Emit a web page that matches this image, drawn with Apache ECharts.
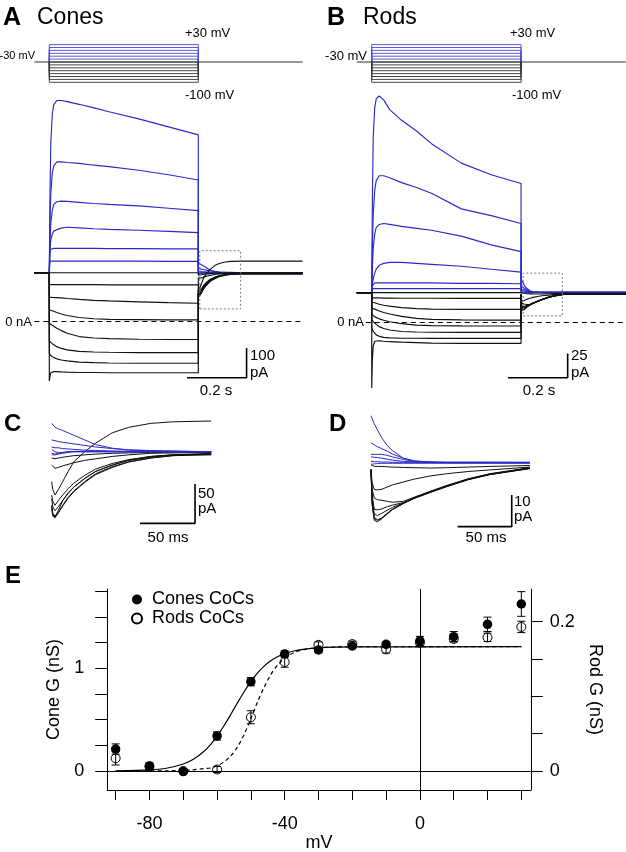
<!DOCTYPE html>
<html><head><meta charset="utf-8">
<script src="https://cdn.jsdelivr.net/npm/echarts@6/dist/echarts.min.js"></script>
<style>html,body{margin:0;padding:0;background:#fff}#c{width:626px;height:852px}</style>
</head><body><div id="c"></div><script>
// ---------------- DATA ----------------
const stepVoltagesMv = [-100,-90,-80,-70,-60,-50,-40,-30,-20,-10,0,10,20,30];
const holdingMv = -30;
const stepOnMs = 0, stepOffMs = 500;
const stepTimesMs = [0,2,5,10,15,25,40,60,100,150,200,300,400,500];
const coneTailTimesMs = [0,1,3,6,10,15,20,30,40,55,70,90,110,145];
const rodTailTimesMs  = [0,1,3,6,10,15,20,30,40,55,70,90,110,147];
const coneHoldingPa = 165;
const rodHoldingPa = 30;

// cone currents during the step (pA), one row per step voltage
const coneStepPa = [
  [-200,-185,-172,-168,-168,-168,-169,-170,-171,-171,-172,-172,-172,-172],
  [-106,-110,-114,-118,-121,-125,-129,-132,-136,-138,-139,-140,-140,-140],
  [-65,-67,-70,-74,-78,-84,-90,-95,-100,-102,-103,-104,-104,-104],
  [-5,-6,-8,-12,-16,-22,-30,-39,-50,-55,-57,-59,-60,-60],
  [40,40,39,37,35,31,26,21,14,10,8,7,6,6],
  [83,83,83,82,82,81,80,78,75,72,70,67,64,62],
  [125,125,125,125,125,125,125,125,125,125,124,124,124,124],
  [165,165,165,165,165,165,165,165,165,165,165,165,165,165],
  [165,204,204,204,204,204,204,204,204,204,204,204,203,203],
  [165,230,244,247,247,247,247,247,247,247,246,246,245,245],
  [165,240,275,295,305,310,315,318,316,313,311,308,304,300],
  [165,270,330,375,395,404,406,405,402,398,395,390,382,374],
  [165,330,430,500,525,538,538,536,533,527,522,510,495,477],
  [165,400,600,700,730,745,745,741,732,720,707,683,656,629]
];
// cone tail currents after the step, relative to holding current (pA)
const coneTailPa = [
  [-60,-70,-75,-70,-62,-53,-45,-34,-25,-17,-11,-7,-4,-3],
  [-72,-82,-84,-78,-69,-59,-51,-39,-29,-20,-13,-8,-5,-4],
  [-70,-80,-83,-77,-68,-58,-50,-38,-28,-19,-13,-8,-5,-3],
  [-68,-78,-82,-75,-62,-52,-45,-34,-25,-17,-11,-6,-4,-2],
  [-55,-63,-68,-62,-55,-47,-40,-30,-22,-15,-10,-6,-4,-3],
  [-38,-48,-55,-48,-38,-25,-13,0,11,24,31,36,38,39],
  [-17,-19,-21,-20,-18,-16,-14,-11,-9,-6,-4,-2,-1.5,-1],
  [-8,-9,-9,-8,-7,-6,-5,-4,-3,-2,-1.5,-1,-0.5,0],
  [-4,-5,-4,-3,-2,-1,0,0,0,0,0,0,0,0],
  [-2,-3,-3,-2,-1,0,0,0,0,0,0,0,0,0],
  [3,2,0,-1,-1,0,0.5,0.5,0.5,0,0,0,0,0],
  [6,6,5,5,4,3.5,3,2,1.5,1,0.5,0,0,0],
  [15,15,14,13,12,11,10,8,6,4,2.5,1.5,1,0],
  [36,34,31,29,27,24,21,15,9,4.5,2,1,0.5,0]
];
// rod currents during the step (pA)
const rodStepPa = [
  [-68,-40,-25,-20,-19,-19.5,-20,-20.5,-21,-21.5,-22,-22.2,-22.2,-22.2],
  [-6,-8,-10,-12,-13.5,-15,-16,-16.5,-17,-17,-17.1,-17.1,-17.1,-17.1],
  [2,1,0,-1.5,-3,-5,-7,-8.5,-10,-10.5,-10.8,-10.9,-10.9,-10.9],
  [8,7,6,5,4,3,1.5,0,-2,-3.5,-4,-4.3,-4.4,-4.4],
  [14,14,13.5,13,12,11,9.5,8,5.5,3.5,2.5,2,1.7,1.7],
  [20,20,20,19.5,19,18,17,16,14.5,13.5,13,12.7,12.7,12.7],
  [24.5,24.5,24.5,24.5,24.5,24.5,24.3,24.3,24.2,24.2,24.1,24,24,24],
  [30,30,30,30,30,30,30,30,30,30,30,30,30,30],
  [30,34,34,34,34,34,34,34,34,34,34,34,34,34],
  [30,37,39,40,40,40,40,40,40,40,40,39.5,39.5,39],
  [30,38,44,50,54,58,60,61,61,60,59,57,54,51],
  [30,55,75,90,97,100,101,100,98,96,94,88,79,72],
  [30,75,110,135,145,150,150,148,143,138,132,116,109,101],
  [30,120,190,220,229,232,228,218,207,196,183,163,151,142]
];
// rod tail currents, relative to holding current (pA)
const rodTailPa = [
  [-2,-13,-18,-18.5,-17.5,-16,-14.6,-12.7,-11.1,-9.2,-7.4,-5.2,-3.6,-1.7],
  [-2,-12.5,-17.5,-18,-17.3,-15.9,-14.5,-12.6,-11,-9.1,-7.3,-5.1,-3.5,-1.6],
  [-2,-12,-17,-17.9,-17.2,-15.8,-14.5,-12.6,-11,-9.1,-7.3,-5.1,-3.5,-1.6],
  [-2,-11,-16,-16.5,-15.8,-14.8,-13.9,-12.5,-11,-9,-7.2,-5,-3.4,-1.5],
  [-2,-10,-14.5,-14.7,-14.4,-13.7,-13.2,-12.4,-10.9,-9,-7.2,-5,-3.4,-1.5],
  [-2,-8,-11,-11.5,-11.7,-12,-12.3,-12,-10.7,-8.8,-7,-4.9,-3.3,-1.4],
  [-2,-6,-8.3,-8.4,-8.2,-7.5,-6.8,-5.9,-5,-4,-3.3,-2.6,-2.1,-1.2],
  [-0.5,-0.8,-1,-1,-1,-1.1,-1.2,-1.3,-1.4,-1.5,-1.4,-1.2,-1,-0.7],
  [-0.3,-0.3,-0.2,-0.1,0,0,0,0,0,0,0,0,0,0],
  [0.6,0.6,0.5,0.5,0.4,0.4,0.3,0.3,0.3,0.3,0.3,0.3,0.3,0.3],
  [2,2,1.9,1.8,1.6,1.3,1,0.6,0.4,0.3,0.2,0.2,0.2,0.2],
  [2.8,2.8,2.8,2.8,2.8,2.5,2,1.2,0.6,0.3,0.2,0.2,0.2,0.2],
  [6.5,6.3,5.8,5.2,4.6,3.8,2.9,1.6,0.8,0.4,0.3,0.3,0.3,0.2],
  [15,14.5,12.5,10.5,8,5.6,4,1.6,0.6,0.4,0.3,0.3,0.3,0.3]
];
// Panel E: conductance vs voltage
const gVoltagesMv = [-90,-80,-70,-60,-50,-40,-30,-20,-10,0,10,20,30];
const coneG    = [0.214,0.049,-0.006,0.341,0.870,1.139,1.178,1.217,1.233,1.266,1.308,1.428,1.626];
const coneGErr = [0.05,0.03,0.02,0.04,0.04,0.03,0.025,0.02,0.025,0.045,0.05,0.07,0.12];
const rodG     = [0.017,0.006,0.000,0.002,0.072,0.146,0.169,0.170,0.163,0.172,0.177,0.179,0.193];
const rodGErr  = [0.009,0.003,0.002,0.004,0.0087,0.007,0.004,0.004,0.005,0.004,0.004,0.0056,0.0076];
const fitVoltagesMv = [-90,-80,-75,-70,-67,-64,-62,-60,-58,-56,-54,-52,-50,-48,-46,-44,-42,-40,-37,-34,-30,-25,-20,30];
const coneFitG = [0.002,0.011,0.027,0.068,0.114,0.187,0.255,0.339,0.438,0.548,0.662,0.772,0.871,0.955,1.023,1.075,1.114,1.143,1.171,1.187,1.199,1.206,1.208,1.21];
const rodFitG  = [0,0.0001,0.0002,0.0007,0.0016,0.0033,0.004,0.007,0.012,0.02,0.032,0.049,0.07,0.0929,0.113,0.1298,0.1424,0.1512,0.1591,0.163,0.1652,0.1661,0.1664,0.1665];
const gTicksCone = [0,0.25,0.5,0.75,1,1.25,1.5,1.75];
const gLabelsCone = [0,1];
const gTicksRod = [0,0.05,0.1,0.15,0.2];
const gLabelsRod = [0,0.2];
const mvTicks = [-90,-80,-70,-60,-50,-40,-30,-20,-10,0,10,20,30];
const mvLabels = [-80,-40,0];

// ---------------- STYLE / LAYOUT ----------------
const FONT = '"Liberation Sans", Arial, Helvetica, sans-serif';
const BLUE = '#2a2ac8', BLACK = '#111';
const PROT_BLUE = '#4a4ad6', PROT_BLACK = '#333';
const A_T = [-50, 850], B_T = [-50, 851];

const chart = echarts.init(document.getElementById('c'), null, {renderer:'canvas'});

function hiddenAxis(grid, min, max){ return {type:'value', gridIndex:grid, min:min, max:max, show:false}; }

const series = [];
function addLine(xi, yi, data, color, width, extra){
  series.push(Object.assign({type:'line', xAxisIndex:xi, yAxisIndex:yi, data:data, symbol:'none', showSymbol:false,
    silent:true, animation:false, lineStyle:{color:color, width:width}, z:2}, extra||{}));
}
const isBlue = v => v > holdingMv;
const idx = stepVoltagesMv.map((v,i)=>i);
const blueFirst = idx.slice().sort((a,b)=> isBlue(stepVoltagesMv[b]) - isBlue(stepVoltagesMv[a]));
const blackFirst = idx.slice().sort((a,b)=> isBlue(stepVoltagesMv[a]) - isBlue(stepVoltagesMv[b]));

function fullTrace(base, step, tail, tailT, tEnd, tStart){
  const d = [[tStart, base],[stepOnMs, base]];
  stepTimesMs.forEach((t,j)=>d.push([stepOnMs + t, step[j]]));
  tailT.forEach((t,j)=>d.push([stepOffMs + t, base + tail[j]]));
  d.push([tEnd, base + tail[tail.length-1]]);
  return d;
}

// voltage protocols: holding line (black) + step boxes
[[2,A_T],[3,B_T]].forEach(([ax,tr])=>{
  idx.forEach(i=>{
    const v = stepVoltagesMv[i];
    addLine(ax,ax,[[stepOnMs,holdingMv],[stepOnMs,v],[stepOffMs,v],[stepOffMs,holdingMv]], isBlue(v)?PROT_BLUE:PROT_BLACK, 0.9);
  });
  addLine(ax,ax,[[tr[0],holdingMv],[tr[1],holdingMv]], PROT_BLACK, 1.1, {z:3});
});

// A and B full traces: blue underneath, black on top
blueFirst.forEach(i=>{
  const v = stepVoltagesMv[i], c = isBlue(v)?BLUE:BLACK;
  addLine(0,0, fullTrace(coneHoldingPa, coneStepPa[i], coneTailPa[i], coneTailTimesMs, A_T[1], A_T[0]), c, 1.15);
  addLine(1,1, fullTrace(rodHoldingPa, rodStepPa[i], rodTailPa[i], rodTailTimesMs, B_T[1], B_T[0]), c, 1.15);
});
// C and D tails: black underneath, blue on top
blackFirst.forEach(i=>{
  const v = stepVoltagesMv[i], c = isBlue(v)?BLUE:BLACK;
  addLine(4,4, coneTailTimesMs.map((t,j)=>[t, coneTailPa[i][j]]), c, 1.0);
  addLine(5,5, rodTailTimesMs.map((t,j)=>[t, rodTailPa[i][j]]), c, 1.0);
});

// zero-current dashed lines
function zeroLine(xi, yi){
  series.push({type:'line', xAxisIndex:xi, yAxisIndex:yi, data:[], silent:true, z:5,
    markLine:{silent:true, symbol:['none','none'], label:{show:false}, animation:false,
      lineStyle:{color:'#000', type:[5,4], width:1}, data:[{yAxis:0}]}});
}
zeroLine(0,0); zeroLine(1,1);

// dotted boxes marking the tail windows (annotation positions in data units)
function box(xi, yi, t0, t1, i0, i1){
  addLine(xi, yi, [[t0,i0],[t1,i0],[t1,i1],[t0,i1],[t0,i0]], '#777', 1, {lineStyle:{color:'#777', width:1, type:[2,2]}});
}
box(0,0, 505, 642, 43, 239);
box(1,1, 507, 638, 6, 50);

// scale bars: corner position + lengths
function scaleBar(xi, yi, tCorner, iCorner, dt, di){
  addLine(xi, yi, [[tCorner - dt, iCorner],[tCorner, iCorner],[tCorner, iCorner + di]], '#000', 1.6);
}
scaleBar(0,0, 662, -188.6, 200, 100);
scaleBar(1,1, 656, -57.5, 200, 25);
scaleBar(4,4, 130.3, -91, 50, 50);
scaleBar(5,5, 130.3, -20, 50, 10);

// ---- Panel E ----
const conePts = gVoltagesMv.map((v,i)=>[v, coneG[i], coneGErr[i]]);
const rodPts = gVoltagesMv.map((v,i)=>[v, rodG[i], rodGErr[i]]);
function errBars(yi, data, hw){
  return {type:'custom', xAxisIndex:6, yAxisIndex:yi, data:data, silent:true, z:4, animation:false,
    renderItem:function(params, api){
      const x = api.value(0), y = api.value(1), e = api.value(2);
      const top = api.coord([x, y+e]), bot = api.coord([x, y-e]);
      const st = {stroke:'#000', lineWidth:1};
      return {type:'group', children:[
        {type:'line', shape:{x1:top[0], y1:top[1], x2:bot[0], y2:bot[1]}, style:st},
        {type:'line', shape:{x1:top[0]-hw, y1:top[1], x2:top[0]+hw, y2:top[1]}, style:st},
        {type:'line', shape:{x1:bot[0]-hw, y1:bot[1], x2:bot[0]+hw, y2:bot[1]}, style:st}
      ]};
    }};
}
series.push({type:'line', name:'coneFit', xAxisIndex:6, yAxisIndex:6, data:fitVoltagesMv.map((v,i)=>[v,coneFitG[i]]),
  symbol:'none', smooth:0.3, silent:true, animation:false, lineStyle:{color:'#000', width:1.2}, z:2,
  markLine:{silent:true, symbol:['none','none'], label:{show:false}, animation:false,
    lineStyle:{color:'#000', type:'solid', width:1}, data:[{yAxis:0},{xAxis:0}]}});
series.push({type:'line', name:'rodFit', xAxisIndex:6, yAxisIndex:7, data:fitVoltagesMv.map((v,i)=>[v,rodFitG[i]]),
  symbol:'none', smooth:0.3, silent:true, animation:false, lineStyle:{color:'#000', width:1.2, type:[4,3]}, z:2});
series.push({type:'scatter', name:'Cones CoCs', xAxisIndex:6, yAxisIndex:6, data:conePts, symbol:'circle', symbolSize:9.5,
  itemStyle:{color:'#000', opacity:1}, z:5, animation:false});
series.push(errBars(6, conePts, 4));
series.push({type:'scatter', name:'Rods CoCs', xAxisIndex:6, yAxisIndex:7, data:rodPts, symbol:'circle', symbolSize:9,
  itemStyle:{color:'rgba(255,255,255,0)', borderColor:'#000', borderWidth:1, opacity:1}, z:6, animation:false});
series.push(errBars(7, rodPts, 4));

const eAxisLine = {show:true, onZero:false, lineStyle:{color:'#000', width:1}};
const eLabel = {color:'#000', fontSize:18, fontFamily:FONT};

function styleTxt(x,y,text,size,align,weight){
  const st = {text:text, fontSize:size, fontFamily:FONT, fill:'#000', align:align||'left', verticalAlign:'middle'};
  if(weight) st.fontWeight = weight;
  return {type:'text', x:x, y:y, silent:true, style:st};
}
function g(left, top, width, height){
  return {left:left, top:top, width:width, height:height, containLabel:false, outerBoundsMode:'none'};
}

const option = {
  animation:false,
  backgroundColor:'#fff',
  grid:[
    g(34.4, 96, 268.2, 285.1),
    g(356.8, 88.2, 269.1, 311.4),
    g(34.4, 41.7, 268.2, 43.5),
    g(356.8, 41.7, 269.1, 43.5),
    g(46.2, 404.5, 170.5, 133.8),
    g(365.6, 409.4, 167.4, 133.1),
    g(107.2, 589, 423.6, 201)
  ],
  xAxis:[
    hiddenAxis(0, A_T[0], A_T[1]), hiddenAxis(1, B_T[0], B_T[1]),
    hiddenAxis(2, A_T[0], A_T[1]), hiddenAxis(3, B_T[0], B_T[1]),
    hiddenAxis(4, -5, 150), hiddenAxis(5, -5, 150),
    {type:'value', gridIndex:6, min:-92.5, max:32.8, name:'mV', nameLocation:'middle', nameGap:43,
     nameTextStyle:{color:'#000', fontSize:18, fontFamily:FONT},
     axisLine:eAxisLine, splitLine:{show:false},
     axisTick:{show:true, inside:false, length:10, customValues:mvTicks, lineStyle:{color:'#000'}},
     axisLabel:Object.assign({customValues:mvLabels, margin:25}, eLabel)}
  ],
  yAxis:[
    hiddenAxis(0, -200, 760), hiddenAxis(1, -80, 240),
    hiddenAxis(2, -110, 40), hiddenAxis(3, -110, 40),
    hiddenAxis(4, -110, 60), hiddenAxis(5, -25, 17),
    {type:'value', gridIndex:6, position:'left', min:-0.185, max:1.772, name:'Cone G (nS)', nameLocation:'middle', nameGap:44, nameRotate:90,
     nameTextStyle:{color:'#000', fontSize:18, fontFamily:FONT},
     axisLine:eAxisLine, splitLine:{show:false},
     axisTick:{show:true, length:12, customValues:gTicksCone, lineStyle:{color:'#000'}},
     axisLabel:Object.assign({customValues:gLabelsCone, margin:23}, eLabel)},
    {type:'value', gridIndex:6, position:'right', min:-0.02545, max:0.2438, name:'Rod G (nS)', nameLocation:'middle', nameGap:54, nameRotate:-90,
     nameTextStyle:{color:'#000', fontSize:18, fontFamily:FONT},
     axisLine:eAxisLine, splitLine:{show:false},
     axisTick:{show:true, length:12, customValues:gTicksRod, lineStyle:{color:'#000'}},
     axisLabel:Object.assign({customValues:gLabelsRod, margin:19}, eLabel)}
  ],
  legend:{data:['Cones CoCs','Rods CoCs'], orient:'vertical', left:131, top:590, itemWidth:10, itemHeight:10, itemGap:0,
    icon:'circle', padding:0, selectedMode:false,
    textStyle:{fontSize:18, fontFamily:FONT, color:'#000', lineHeight:19, padding:[0,0,0,5]}},
  series:series,
  graphic:[
    styleTxt(3,18,'A',25,'left','bold'), styleTxt(37,18,'Cones',23),
    styleTxt(327,18,'B',25,'left','bold'), styleTxt(363,18,'Rods',23),
    styleTxt(185,33,'+30 mV',13), styleTxt(35,56,'-30 mV',11,'right'), styleTxt(185,95,'-100 mV',13),
    styleTxt(510,33,'+30 mV',13), styleTxt(367,56,'-30 mV',13,'right'), styleTxt(512,95,'-100 mV',13),
    styleTxt(32,322,'0 nA',13,'right'), styleTxt(364,322,'0 nA',13,'right'),
    styleTxt(250,356,'100',15), styleTxt(250,373,'pA',15), styleTxt(216,391,'0.2 s',15,'center'),
    styleTxt(571,356,'25',15), styleTxt(571,373,'pA',15), styleTxt(539,391,'0.2 s',15,'center'),
    styleTxt(4,424,'C',24,'left','bold'), styleTxt(329,424,'D',24,'left','bold'), styleTxt(5,576,'E',24,'left','bold'),
    styleTxt(198,494,'50',15), styleTxt(198,509,'pA',15), styleTxt(168,538,'50 ms',15,'center'),
    styleTxt(514,502,'10',15), styleTxt(514,517,'pA',15), styleTxt(486,538,'50 ms',15,'center')
  ]
};
chart.setOption(option);
</script></body></html>
